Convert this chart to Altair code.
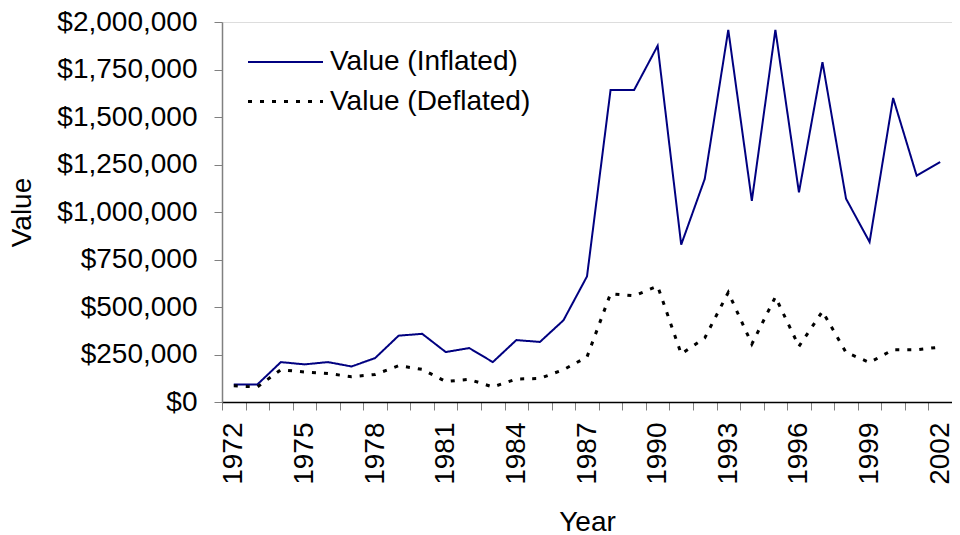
import altair as alt
import pandas as pd

years = list(range(1972, 2003))
inflated = [92000, 92000, 210000, 198000, 210000, 187000, 231000, 349000, 359000, 263000,
            284000, 210000, 326000, 316000, 430000, 661000, 1642000, 1642000, 1875000, 828000,
            1174000, 1959000, 1059000, 1959000, 1103000, 1789000, 1070000, 842000, 1600000,
            1191000, 1263000]
deflated = [85000, 79000, 170000, 158000, 150000, 133000, 145000, 191000, 172000, 108000,
            119000, 79000, 121000, 124000, 170000, 237000, 570000, 559000, 610000, 253000,
            337000, 577000, 305000, 553000, 293000, 477000, 261000, 208000, 275000, 275000,
            289000]
series_names = ["Value (Inflated)", "Value (Deflated)"]
y_ticks = list(range(0, 2000001, 250000))

rows = []
for yr, a, b in zip(years, inflated, deflated):
    rows.append({"Year": yr, "Series": series_names[0], "Value": a})
    rows.append({"Year": yr, "Series": series_names[1], "Value": b})
df = pd.DataFrame(rows)

x_bounds = [yr - 0.5 for yr in years] + [years[-1] + 0.5]

FONT = "Liberation Sans"
FS = 28
W = 730
H = 380
band_px = W / len(years)

legend = alt.Legend(
    title=None, orient="none", legendX=43, legendY=20,
    symbolType="M-2,0H2", symbolSize=1406,
    labelFont=FONT, labelFontSize=FS, labelColor="#000000", labelOffset=24,
    rowPadding=5, padding=0, labelLimit=400,
)

chart = alt.Chart(df).mark_line().encode(
    x=alt.X("Year:Q",
            scale=alt.Scale(domain=[years[0] - 0.5, years[-1] + 0.5], nice=False, zero=False),
            axis=alt.Axis(
                values=x_bounds, title="Year", grid=False,
                labelExpr="((datum.value + 0.5 - 1972) % 3 == 0 && datum.value < 2002) ? format(datum.value + 0.5, 'd') : ''",
                labelAngle=270, labelOffset=band_px / 2, labelPadding=12,
                labelFlush=False, labelOverlap=False, labelBound=False,
                labelFont=FONT, labelFontSize=FS, labelColor="#000000",
                tickSize=8, tickColor="#808080", domainColor="#000000", domainWidth=1.5,
                titleFont=FONT, titleFontSize=FS, titleFontWeight="normal", titleColor="#000000",
                titlePadding=24,
            )),
    y=alt.Y("Value:Q",
            scale=alt.Scale(domain=[0, 2000000], nice=False),
            axis=alt.Axis(
                values=y_ticks, format="$,.0f", title="Value", grid=False,
                labelFont=FONT, labelFontSize=FS, labelColor="#000000", labelPadding=17,
                labelFlush=False, labelOverlap=False,
                tickSize=8, tickColor="#808080", domainColor="#808080", domainWidth=1.5,
                titleFont=FONT, titleFontSize=FS, titleFontWeight="normal", titleColor="#000000",
                titlePadding=20,
            )),
    color=alt.Color("Series:N", scale=alt.Scale(domain=series_names, range=["#000080", "#000000"]),
                    legend=legend),
    strokeDash=alt.StrokeDash("Series:N", scale=alt.Scale(domain=series_names, range=[[1, 0], [4, 8]]),
                              legend=legend),
    strokeWidth=alt.StrokeWidth("Series:N", scale=alt.Scale(domain=series_names, range=[2, 3]),
                                legend=legend),
).properties(
    width=W, height=H,
    autosize=alt.AutoSizeParams(type="none"),
    padding={"left": 214, "top": 14, "right": 0, "bottom": 131},
).configure_view(stroke=None).configure(background="#ffffff")

chart.save("out.html", embed_options={"renderer": "svg", "actions": False})
